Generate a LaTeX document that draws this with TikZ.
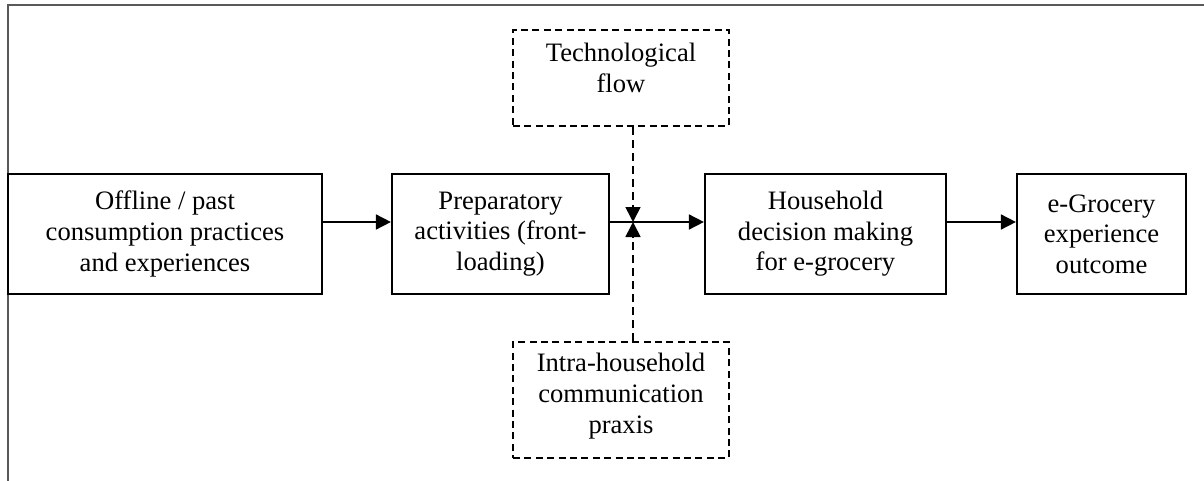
\documentclass[tikz,border=0pt]{standalone}
\usepackage{fontspec}
\setmainfont{Liberation Serif}
\usepackage{tikz}
\usetikzlibrary{calc,arrows.meta,positioning}

\tikzset{
  stagebox/.style={draw, line width=1.1pt, align=center, inner sep=0pt},
  dashbox/.style={draw, line width=0.9pt, dash pattern=on 3.5pt off 2.2pt, inner sep=0pt},
  flowarrow/.style={line width=0.85pt, -{Triangle[length=7.5pt,width=7.5pt]}},
  dasharrow/.style={flowarrow, dash pattern=on 4pt off 2.5pt}
}

\begin{document}
\begin{tikzpicture}[x=0.5pt,y=-0.5pt,font=\fontsize{13.3pt}{15.3pt}\selectfont]
    \useasboundingbox (0,0) rectangle (1204,481);
    % frame
    \draw[black!65, line width=0.9pt] (8,481) -- (8,5) -- (1204,5);
    % main chain
    \node[stagebox, minimum width=157pt, minimum height=60pt] (offline) at (165,234)
      {Offline / past\\consumption practices\\and experiences};
    \node[stagebox, minimum width=108.5pt, minimum height=60pt] (prep) at (500.5,234)
      {Preparatory\\activities (front-\\loading)};
    \node[stagebox, minimum width=120.5pt, minimum height=60pt] (decide) at (825.5,234)
      {Household\\decision making\\for e-grocery};
    \node[stagebox, minimum width=84.5pt, minimum height=60pt] (outcome) at (1101.5,234)
      {e-Grocery\\experience\\outcome};
    \coordinate (mid) at (633,222);
    % influences
    \node[dashbox, minimum width=108pt, minimum height=48pt] (tech) at (621,78) {};
    \node[align=center] (techtxt) at ([yshift=5pt]tech.center) {Technological\\flow};
    \node[dashbox, minimum width=108pt, minimum height=58pt] (comm) at (621,400) {};
    \node[align=center] (commtxt) at ([yshift=2pt]comm.center) {Intra-household\\communication\\praxis};
    % arrows
    \draw[flowarrow] (offline.east |- mid) -- (prep.west |- mid);
    \draw[flowarrow] (prep.east |- mid) -- (decide.west |- mid);
    \draw[flowarrow] (decide.east |- mid) -- (outcome.west |- mid);
    \draw[dasharrow] (tech.south -| mid) -- (mid);
    \draw[dasharrow] (comm.north -| mid) -- (mid);
\end{tikzpicture}
\end{document}
